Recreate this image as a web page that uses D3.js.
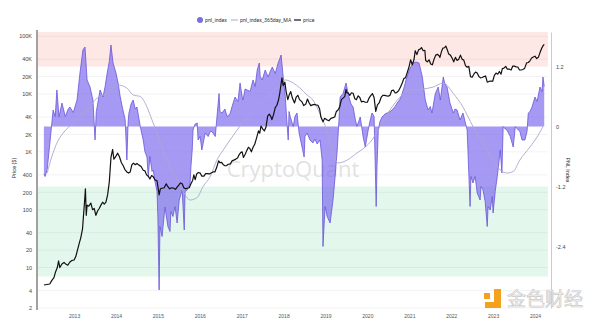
<!DOCTYPE html>
<html><head><meta charset="utf-8">
<script src="https://cdn.jsdelivr.net/npm/d3@7"></script>
<style>
html,body{margin:0;padding:0;background:#fff;}
svg{display:block;font-family:Roboto,"Liberation Sans",sans-serif;}
</style></head>
<body><svg id="c" width="600" height="322"></svg>
<script>
// ---------------- data ----------------
const yearTicks = [2013,2014,2015,2016,2017,2018,2019,2020,2021,2022,2023,2024];
const priceTicks = [2,4,10,20,40,100,200,400,1000,2000,4000,10000,20000,40000,100000];
const priceTickLabels = ["2","4","10","20","40","100","200","400","1K","2K","4K","10K","20K","40K","100K"];
const pnlTicks = [-2.4,-1.2,0,1.2];
const zoneBands = [[1.2, 1.89, "#fde8e5"], [-3.0, -1.2, "#e3f7ec"]];
const seriesNames = ["pnl_index","pnl_index_365day_MA","price"];

const pnlYears = [2012.28,2012.31,2012.36,2012.43,2012.50,2012.55,2012.59,2012.64,2012.71,2012.79,2012.86,2012.90,2012.98,
2013.07,2013.14,2013.21,2013.26,2013.31,2013.38,2013.43,2013.45,2013.50,2013.53,2013.55,2013.62,2013.69,2013.74,2013.79,2013.84,2013.88,2013.93,
2014.00,2014.05,2014.10,2014.15,2014.22,2014.26,2014.29,2014.31,2014.36,2014.41,2014.46,2014.50,2014.58,2014.65,2014.69,2014.74,2014.77,2014.81,2014.86,2014.89,2014.93,2014.98,
2015.00,2015.03,2015.05,2015.10,2015.17,2015.24,2015.29,2015.31,2015.36,2015.41,2015.46,2015.51,2015.58,2015.63,2015.65,2015.70,2015.77,2015.79,2015.82,2015.84,2015.89,2015.94,2015.96,
2016.01,2016.05,2016.13,2016.20,2016.25,2016.29,2016.37,2016.41,2016.46,2016.48,2016.53,2016.60,2016.65,2016.72,2016.77,2016.84,2016.91,2016.96,
2017.01,2017.03,2017.08,2017.13,2017.20,2017.27,2017.32,2017.37,2017.42,2017.44,2017.49,2017.56,2017.63,2017.68,2017.73,2017.80,2017.87,2017.94,2017.99,
2018.04,2018.06,2018.11,2018.13,2018.16,2018.23,2018.27,2018.32,2018.37,2018.44,2018.49,2018.51,2018.56,2018.63,2018.70,2018.75,2018.80,2018.87,2018.92,2018.94,2018.99,
2019.04,2019.11,2019.18,2019.23,2019.28,2019.32,2019.35,2019.42,2019.49,2019.56,2019.61,2019.66,2019.71,2019.75,2019.83,2019.90,2019.95,
2020.02,2020.06,2020.11,2020.16,2020.18,2020.21,2020.23,2020.26,2020.30,2020.35,2020.42,2020.47,2020.54,2020.59,2020.66,2020.71,2020.78,2020.83,2020.88,2020.92,
2021.00,2021.04,2021.09,2021.16,2021.23,2021.28,2021.31,2021.38,2021.45,2021.50,2021.54,2021.62,2021.69,2021.74,2021.81,2021.85,2021.90,2021.97,
2022.05,2022.09,2022.14,2022.21,2022.28,2022.33,2022.38,2022.40,2022.45,2022.47,2022.52,2022.57,2022.62,2022.69,2022.71,2022.76,2022.81,2022.86,2022.88,2022.93,2022.98,
2023.00,2023.05,2023.10,2023.14,2023.17,2023.21,2023.24,2023.29,2023.33,2023.41,2023.48,2023.53,2023.60,2023.64,2023.69,2023.76,2023.81,2023.84,2023.88,2023.93,
2024.00,2024.05,2024.12,2024.17,2024.19,2024.22];
const pnlValues = [-0.95,-1.0,-0.85,-0.27,0.33,0.2,0.73,0.19,0.47,0.2,0.35,0.39,0.28,
0.53,1.07,1.53,1.59,0.93,0.79,0.6,0.53,-0.27,0.3,0.39,0.73,0.59,0.8,1.07,1.3,1.63,1.27,
1.07,0.87,0.6,0.39,0.13,-0.67,0.1,0.27,0.45,0.53,0.35,0.39,0.0,-0.27,-0.5,-0.61,-1.0,-0.6,-0.9,-0.87,-1.1,-1.3,
-1.8,-3.27,-2.0,-2.2,-1.61,-2.0,-2.1,-1.7,-1.8,-1.6,-1.93,-1.47,-1.27,-2.07,-1.3,-1.27,-1.13,-0.8,-0.47,-0.07,0.05,0.07,-0.27,
-0.2,-0.47,-0.13,-0.2,-0.1,-0.1,-0.2,0.19,0.66,0.3,0.27,0.35,0.2,0.25,0.4,0.59,0.5,0.87,
0.6,0.53,0.75,0.73,0.7,0.93,0.8,1.13,1.27,1.0,0.93,1.13,0.99,1.1,1.19,1.06,1.27,1.43,0.99,
0.6,0.33,-0.27,0.3,0.19,0.0,0.2,0.27,-0.13,-0.41,-0.61,-0.2,-0.13,-0.27,-0.33,-0.25,-0.35,-0.27,-0.67,-2.4,-1.6,
-1.8,-1.93,-1.47,-1.0,-0.47,0.1,0.59,0.66,0.87,0.59,0.45,0.39,0.15,0.0,0.19,-0.21,-0.41,
-0.07,0.1,0.27,0.2,-0.5,-1.6,-0.8,-0.07,0.1,0.19,0.25,0.27,0.3,0.33,0.4,0.47,0.55,0.66,0.8,0.93,
1.13,1.2,1.27,1.29,1.27,1.1,0.99,0.53,0.33,0.4,0.27,0.66,0.79,0.53,0.99,0.85,0.79,0.47,
0.27,0.35,0.33,0.13,0.27,0.1,-0.07,-0.5,-1.6,-1.0,-1.13,-1.0,-1.33,-1.47,-1.2,-1.27,-1.5,-2.0,-1.6,-1.67,-1.4,
-1.73,-1.3,-1.0,-0.7,-0.47,-0.93,0.0,-0.05,-0.07,-0.2,-0.41,0.0,-0.07,-0.1,-0.27,-0.27,-0.1,0.27,0.3,0.39,
0.59,0.5,0.79,0.7,0.99,0.8];

const maYears = [2012.36,2012.47,2012.59,2012.74,2012.98,2013.14,2013.31,2013.55,2013.79,2014.05,2014.26,2014.41,2014.58,2014.74,2014.86,2014.98,
2015.12,2015.29,2015.46,2015.60,2015.77,2015.94,2016.08,2016.25,2016.41,2016.56,2016.72,2016.89,2017.13,2017.37,2017.61,2017.84,
2018.04,2018.23,2018.39,2018.56,2018.70,2018.87,2019.04,2019.18,2019.30,2019.52,2019.75,2019.95,2020.11,2020.30,2020.54,2020.78,
2021.02,2021.33,2021.57,2021.81,2022.05,2022.28,2022.52,2022.76,2023.00,2023.17,2023.33,2023.48,2023.64,2023.88,2024.05,2024.19];
const maValues = [-0.93,-0.6,-0.33,-0.13,0.07,0.2,0.33,0.57,0.66,0.83,0.77,0.63,0.6,0.39,0.13,-0.13,
-0.47,-0.81,-1.07,-1.3,-1.47,-1.42,-1.2,-1.0,-0.67,-0.47,-0.27,-0.07,0.19,0.39,0.59,0.79,
0.93,0.87,0.77,0.63,0.53,0.25,-0.1,-0.53,-0.73,-0.67,-0.53,-0.41,-0.27,0.0,0.33,0.59,
0.73,0.75,0.79,0.87,0.66,0.39,0.0,-0.33,-0.67,-0.87,-0.93,-0.9,-0.67,-0.41,-0.21,0.0];

const priceYears = [2012.28,2012.35,2012.42,2012.47,2012.52,2012.56,2012.60,2012.63,2012.66,2012.71,2012.76,2012.80,2012.85,2012.90,2012.95,
2013.00,2013.04,2013.08,2013.12,2013.16,2013.20,2013.23,2013.25,2013.27,2013.29,2013.31,2013.35,2013.40,2013.44,2013.48,2013.52,2013.56,2013.60,2013.64,2013.68,2013.72,2013.76,2013.80,2013.84,2013.88,2013.92,2013.95,2013.98,
2014.04,2014.08,2014.13,2014.17,2014.21,2014.26,2014.30,2014.34,2014.38,2014.42,2014.46,2014.50,2014.55,2014.60,2014.65,2014.69,2014.73,2014.77,2014.81,2014.85,2014.89,2014.93,2014.98,
2015.03,2015.06,2015.10,2015.15,2015.20,2015.24,2015.28,2015.33,2015.38,2015.42,2015.46,2015.50,2015.54,2015.58,2015.62,2015.66,2015.70,2015.75,2015.79,2015.83,2015.86,2015.89,2015.93,2015.97,
2016.01,2016.05,2016.10,2016.14,2016.18,2016.23,2016.27,2016.32,2016.36,2016.40,2016.45,2016.48,2016.52,2016.56,2016.60,2016.64,2016.68,2016.73,2016.77,2016.81,2016.86,2016.90,2016.94,2016.98,
2017.01,2017.04,2017.08,2017.12,2017.16,2017.19,2017.23,2017.27,2017.31,2017.36,2017.40,2017.43,2017.46,2017.50,2017.54,2017.58,2017.62,2017.66,2017.70,2017.72,2017.76,2017.80,2017.84,2017.88,2017.91,2017.96,2017.99,
2018.03,2018.06,2018.10,2018.13,2018.17,2018.21,2018.26,2018.30,2018.34,2018.38,2018.44,2018.48,2018.53,2018.57,2018.61,2018.65,2018.69,2018.73,2018.77,2018.82,2018.86,2018.89,2018.94,2018.98,
2019.03,2019.08,2019.13,2019.18,2019.22,2019.26,2019.30,2019.34,2019.38,2019.42,2019.46,2019.49,2019.51,2019.54,2019.58,2019.62,2019.66,2019.70,2019.74,2019.78,2019.82,2019.86,2019.90,2019.95,
2020.00,2020.04,2020.08,2020.12,2020.16,2020.20,2020.24,2020.28,2020.33,2020.37,2020.41,2020.46,2020.50,2020.54,2020.58,2020.62,2020.66,2020.70,2020.74,2020.79,2020.83,2020.87,2020.91,2020.95,2020.99,
2021.03,2021.07,2021.11,2021.14,2021.18,2021.22,2021.26,2021.29,2021.33,2021.37,2021.39,2021.43,2021.47,2021.51,2021.55,2021.59,2021.63,2021.67,2021.71,2021.73,2021.77,2021.80,2021.84,2021.87,2021.91,2021.94,2021.98,
2022.02,2022.06,2022.10,2022.14,2022.18,2022.22,2022.26,2022.30,2022.34,2022.38,2022.42,2022.46,2022.50,2022.54,2022.58,2022.62,2022.66,2022.70,2022.74,2022.78,2022.82,2022.86,2022.90,2022.95,2022.99,
2023.03,2023.07,2023.11,2023.15,2023.19,2023.22,2023.26,2023.30,2023.34,2023.38,2023.43,2023.47,2023.51,2023.55,2023.59,2023.63,2023.67,2023.71,2023.75,2023.80,2023.84,2023.88,2023.92,2023.96,
2024.00,2024.04,2024.08,2024.12,2024.16,2024.19,2024.22];
const priceValues = [5.0,5.1,5.2,6.0,6.7,8.5,10,13,10,11.5,12.3,11.5,11,12.5,13.3,
13.5,15.5,20,26,33,46,90,140,230,80,120,115,130,100,105,80,95,105,120,135,125,135,180,300,800,1100,750,800,
950,830,650,580,500,450,430,450,600,640,600,630,590,560,480,470,400,380,340,390,370,330,315,
180,230,235,240,280,250,230,240,235,225,245,265,290,280,240,230,235,240,280,320,400,330,420,440,
430,380,380,420,420,415,430,450,450,530,700,650,660,600,575,580,610,620,700,720,750,780,900,980,
1000,800,900,1050,1200,1150,1000,1200,1350,1800,2300,2100,2800,2500,2300,2700,4200,4500,4000,3600,4400,5800,6400,8000,10500,19000,14000,
16000,11000,8000,9500,11000,8500,7000,8800,9500,8000,7300,6300,6700,8200,7000,6300,6500,6600,6500,6400,5500,4000,3300,3800,
3600,3450,3800,3900,4000,5000,5300,6000,8000,8500,9000,12000,10500,10500,9500,10500,10300,8300,8000,9300,8700,7300,7500,7200,
7200,8500,9400,10200,8700,5000,6500,7000,8800,9500,9500,9300,9200,9500,11500,11700,10500,10600,11300,13200,15500,18500,19200,23500,29000,
39000,32000,39000,56000,48000,58000,60000,63500,56000,57000,38000,36000,39000,33000,32000,40000,47000,48500,46000,43000,55000,62000,63000,67500,57000,49000,47000,
42000,36000,43000,38000,40000,47000,40000,38500,31000,29000,30000,20000,19500,22000,24000,23000,20000,19000,19300,20000,20500,16000,16500,16800,16600,
21000,23000,22000,24500,22000,27500,28000,30000,27000,27000,26000,30500,30300,29500,29300,26000,26000,26500,27500,34500,35000,37500,42000,43500,
45000,41000,43000,52000,62000,68000,72000];

// ---------------- chart ----------------
function yearToDate(y){
  const yr = Math.floor(y);
  const a = new Date(yr,0,1), b = new Date(yr+1,0,1);
  return new Date(+a + (y-yr)*(b-a));
}
const svg = d3.select("#c");
const L = 38, R = 548, T = 32, B = 308;

const x = d3.scaleTime().domain([yearToDate(2012.14), yearToDate(2024.31)]).range([L, R]);
const yPrice = d3.scaleLog().domain([2, 118000]).range([B, T]);
const yPnl = d3.scaleLinear().domain([-3.63, 1.89]).range([B, T]);

// zone bands
svg.append("g").selectAll("rect").data(zoneBands).join("rect")
  .attr("x", L).attr("width", R - L)
  .attr("y", d => yPnl(d[1])).attr("height", d => yPnl(d[0]) - yPnl(d[1]))
  .attr("fill", d => d[2]);

// grid lines
svg.append("g").selectAll("line").data(priceTicks).join("line")
  .attr("x1", L).attr("x2", R)
  .attr("y1", d => yPrice(d)).attr("y2", d => yPrice(d))
  .attr("stroke", "#000").attr("stroke-opacity", 0.05).attr("stroke-width", 1);

// watermark
svg.append("text").attr("x", 293).attr("y", 177).attr("text-anchor", "middle")
  .attr("font-size", 22).attr("font-family", "'Open Sans',Roboto,sans-serif")
  .attr("fill", "#dcdcdc").attr("fill-opacity", 0.85).text("CryptoQuant");

// pnl area
const pnlData = pnlYears.map((t, i) => ({d: yearToDate(t), v: pnlValues[i]}));
svg.append("path").datum(pnlData)
  .attr("d", d3.area().x(d => x(d.d)).y0(yPnl(0)).y1(d => yPnl(d.v)))
  .attr("fill", "#7b68ee").attr("fill-opacity", 0.68);
svg.append("path").datum(pnlData)
  .attr("d", d3.line().x(d => x(d.d)).y(d => yPnl(d.v)))
  .attr("fill", "none").attr("stroke", "#6a56d8").attr("stroke-width", 0.8);

// MA line
const maData = maYears.map((t, i) => ({d: yearToDate(t), v: maValues[i]}));
svg.append("path").datum(maData)
  .attr("d", d3.line().curve(d3.curveMonotoneX).x(d => x(d.d)).y(d => yPnl(d.v)))
  .attr("fill", "none").attr("stroke", "#aea6cc").attr("stroke-width", 0.9);

// price line
const priceData = priceYears.map((t, i) => ({d: yearToDate(t), v: priceValues[i]}));
svg.append("path").datum(priceData)
  .attr("d", d3.line().x(d => x(d.d)).y(d => yPrice(d.v)))
  .attr("fill", "none").attr("stroke", "#111").attr("stroke-width", 1.2).attr("stroke-linejoin", "round");

// axes
const fs = 5.5;
const gl = svg.append("g").attr("transform", `translate(${L - 1},0)`)
  .call(d3.axisLeft(yPrice).tickValues(priceTicks).tickFormat((d, i) => priceTickLabels[i]).tickSize(0).tickPadding(5));
gl.select(".domain").attr("stroke", "#444").attr("stroke-width", 1).attr("d", `M0,${T - 2}V${B + 2}`);
gl.selectAll("text").attr("font-size", fs).attr("fill", "#444");

const gr = svg.append("g").attr("transform", `translate(551,0)`)
  .call(d3.axisRight(yPnl).tickValues(pnlTicks).tickFormat(d => String(d)).tickSize(0).tickPadding(5));
gr.select(".domain").attr("stroke", "#ccc").attr("stroke-width", 1);
gr.selectAll("text").attr("font-size", fs).attr("fill", "#444");

const gx = svg.append("g").attr("transform", `translate(0,${B})`)
  .call(d3.axisBottom(x).tickValues(yearTicks.map(y => new Date(y, 0, 1))).tickFormat(d3.timeFormat("%Y")).tickSize(0).tickPadding(6));
gx.select(".domain").remove();
gx.selectAll("text").attr("font-size", 5).attr("fill", "#555");

// axis titles
svg.append("text").attr("transform", "translate(16,168) rotate(-90)").attr("text-anchor", "middle")
  .attr("font-size", fs).attr("fill", "#333").text("Price ($)");
svg.append("text").attr("transform", "translate(566,170) rotate(90)").attr("text-anchor", "middle")
  .attr("font-size", fs).attr("fill", "#333").text("PNL Index");

// legend
const lg = svg.append("g").attr("font-size", 5.2).attr("fill", "#333");
lg.append("circle").attr("cx", 200).attr("cy", 20).attr("r", 3).attr("fill", "#7b6ee3");
lg.append("text").attr("x", 205).attr("y", 22).text(seriesNames[0]);
lg.append("line").attr("x1", 231).attr("x2", 238).attr("y1", 20).attr("y2", 20).attr("stroke", "#aea6cc").attr("stroke-width", 1);
lg.append("text").attr("x", 240).attr("y", 22).text(seriesNames[1]);
lg.append("line").attr("x1", 294).attr("x2", 301).attr("y1", 20).attr("y2", 20).attr("stroke", "#111").attr("stroke-width", 1.2);
lg.append("text").attr("x", 303).attr("y", 22).text(seriesNames[2]);

// bottom-right watermark (金色财经)
const wm = svg.append("g");
wm.append("path").attr("d", "M494,289h7v19h-16v-6h9z").attr("fill", "#f4a21c");
wm.append("rect").attr("x", 484).attr("y", 293).attr("width", 6).attr("height", 6).attr("fill", "#f4a21c");
wm.append("text").attr("x", 507).attr("y", 306).attr("font-size", 19)
  .attr("font-family", "'Noto Sans CJK SC',sans-serif")
  .attr("fill", "#f2f2f2").attr("stroke", "#c8c8c8").attr("stroke-width", 0.6).text("金色财经");
</script>
</body></html>
